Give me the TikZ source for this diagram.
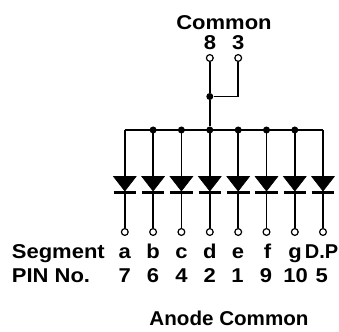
\documentclass[tikz,border=0pt]{standalone}
\usepackage{fontspec}
\setmainfont{Liberation Sans}
\usetikzlibrary{calc}
\newcommand{\wtxt}[1]{\scalebox{1.1}[1]{#1}}
\tikzset{
  lbl/.style={font=\fontsize{20}{24}\selectfont\bfseries, inner sep=0pt},
  wire/.style={line width=1.8pt},
  pin/.style={circle, draw, line width=1.2pt, minimum size=6.8pt, inner sep=0pt, fill=white},
  dot/.style={circle, fill, inner sep=0pt, minimum size=7pt},
  diodetri/.style={fill=black, draw=black, line width=0.6pt, line join=miter},
  diodebar/.style={line width=2.4pt}
}
\begin{document}
\begin{tikzpicture}[x=1pt,y=-1pt]
\useasboundingbox (0,0) rectangle (339,331);
% top
\node[lbl, anchor=base] (common) at (224,30) {\wtxt{Common}};
\node[lbl, anchor=base] (n8) at (210,50) {\wtxt{8}};
\node[lbl, anchor=base] (n3) at (238.3,50) {\wtxt{3}};
\node[pin] (p8) at (209.8,58) {};
\node[pin] (p3) at (238.2,58) {};
\node[dot] (j) at (209.8,96.5) {};
\coordinate (jc) at (238.2,96.5);
\draw[wire] (p8) -- (j);
\draw[wire] (p3) -- (jc) -- (j);
% columns
\foreach \i/\x in {1/124.8,2/153.1,3/181.4,4/209.8,5/238.2,6/266.5,7/294.8,8/323}{
  \coordinate (b\i) at (\x,130);
  \coordinate (a\i) at (\x,176.5);
  \coordinate (k\i) at (\x,192.5);
  \node[pin] (q\i) at (\x,232) {};
  \fill[diodetri] ($(a\i)+(-11.3,0)$) -- ($(a\i)+(11.3,0)$) -- ($(a\i)+(0,14.5)$) -- cycle;
  \draw[diodebar] ($(k\i)+(-11.3,0)$) -- ($(k\i)+(11.3,0)$);
  \draw[wire] (b\i) -- (a\i);
  \draw[wire] (k\i) -- (q\i);
}
\draw[wire] (b1) -- (b8);
\foreach \i in {2,...,7}{ \node[dot] (d\i) at (b\i) {}; }
\draw[wire] (j) -- (d4);
% labels
\node[lbl, anchor=base west] (seg) at (11.7,258.5) {\wtxt{Segment}};
\node[lbl, anchor=base west] (pinno) at (11.7,282.5) {\wtxt{PIN No.}};
\foreach \t/\x [count=\c] in {a/124.8,b/153.1,c/181.4,d/209.8,e/238,f/267.5,g/295}{
  \node[lbl, anchor=base] (s\c) at (\x,258.5) {\wtxt{\t}};
}
\node[lbl, anchor=base] (s8) at (321.5,258.5) {D.P};
\foreach \t/\x [count=\c] in {7/124.8,6/153.1,4/181.4,2/209.8,1/237.5,9/266,10/295.5,5/321.7}{
  \node[lbl, anchor=base] (r\c) at (\x,282.5) {\wtxt{\t}};
}
\node[lbl, anchor=base] (anode) at (229,325) {\scalebox{1.03}[1]{Anode Common}};
\end{tikzpicture}
\end{document}
